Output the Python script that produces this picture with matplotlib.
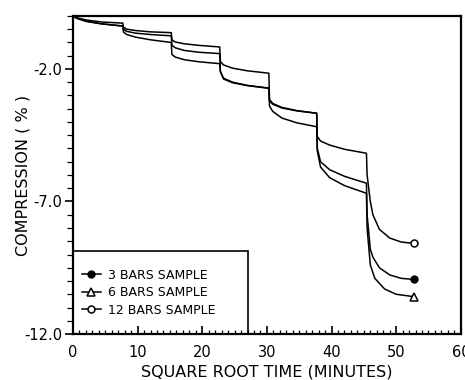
import numpy as np
import matplotlib
matplotlib.use("Agg")
import matplotlib.pyplot as plt
from matplotlib.legend_handler import HandlerLine2D
from matplotlib.patches import Rectangle
from matplotlib.ticker import MultipleLocator, FixedLocator

# ---- data (sqrt time in minutes, compression %) ----
x_12 = [0, 0.5, 2, 4.5, 7.7,
        7.8, 8.3, 9.7, 12, 15.2,
        15.3, 15.8, 17.2, 19.5, 22.7,
        22.8, 23.3, 24.7, 27, 30.3,
        30.4, 30.9, 32.3, 34.6, 37.7,
        37.8, 38.3, 39.7, 42, 45.4,
        45.5, 46.0, 46.4, 47.4, 49.0, 50.8, 52.7]
y_12 = [0, -0.06, -0.15, -0.23, -0.27,
        -0.42, -0.5, -0.55, -0.6, -0.63,
        -0.9, -0.98, -1.05, -1.11, -1.17,
        -1.72, -1.85, -1.97, -2.07, -2.16,
        -3.15, -3.3, -3.45, -3.57, -3.67,
        -4.55, -4.72, -4.87, -5.03, -5.18,
        -6.0, -7.0, -7.5, -8.05, -8.38, -8.53, -8.58]

x_3 = [0, 0.5, 2, 4.5, 7.7,
       7.8, 8.3, 9.7, 12, 15.2,
       15.3, 15.8, 17.2, 19.5, 22.7,
       22.8, 23.3, 24.7, 27, 30.3,
       30.4, 30.9, 32.3, 34.6, 37.7,
       37.8, 38.3, 39.7, 42, 45.4,
       45.5, 46.0, 46.4, 47.4, 49.0, 50.8, 52.7]
y_3 = [0, -0.08, -0.2, -0.3, -0.38,
       -0.5, -0.58, -0.65, -0.7, -0.75,
       -1.1, -1.2, -1.3, -1.37, -1.42,
       -2.1, -2.35, -2.5, -2.62, -2.72,
       -3.2, -3.33, -3.47, -3.58, -3.67,
       -5.0, -5.5, -5.8, -6.05, -6.31,
       -7.5, -8.8, -9.1, -9.5, -9.77, -9.9, -9.94]

x_6 = [0, 0.5, 2, 4.5, 7.7,
       7.8, 8.3, 9.7, 12, 15.2,
       15.3, 15.8, 17.2, 19.5, 22.7,
       22.8, 23.3, 24.7, 27, 30.3,
       30.4, 30.9, 32.3, 34.6, 37.7,
       37.8, 38.3, 39.7, 42, 45.4,
       45.5, 46.0, 46.7, 48.2, 50.0, 52.7]
y_6 = [0, -0.08, -0.2, -0.3, -0.38,
       -0.6, -0.7, -0.8, -0.9, -1.0,
       -1.45, -1.55, -1.65, -1.73, -1.8,
       -2.1, -2.38, -2.52, -2.63, -2.73,
       -3.4, -3.6, -3.85, -4.03, -4.18,
       -5.1, -5.7, -6.1, -6.4, -6.69,
       -8.0, -9.4, -9.9, -10.3, -10.5, -10.59]

labels = ["3 BARS SAMPLE", "6 BARS SAMPLE", "12 BARS SAMPLE"]
x_ticks = [0, 10, 20, 30, 40, 50, 60]
y_ticks = [-12.0, -7.0, -2.0]
y_tick_labels = ["-12.0", "-7.0", "-2.0"]


class EndMarkerHandler(HandlerLine2D):
    def get_xdata(self, legend, xdescent, ydescent, width, height, fontsize):
        xdata = [-xdescent, -xdescent + width]
        return xdata, [-xdescent + width]


fig = plt.figure(figsize=(4.65, 3.8), dpi=100)
ax = fig.add_axes([0.157, 0.121, 0.834, 0.837])

lw = 1.1
l3, = ax.plot(x_3, y_3, color="black", lw=lw, marker="o", markevery=[len(x_3) - 1],
              markersize=5, markerfacecolor="black", markeredgecolor="black")
l6, = ax.plot(x_6, y_6, color="black", lw=lw, marker="^", markevery=[len(x_6) - 1],
              markersize=5.5, markerfacecolor="white", markeredgecolor="black", markeredgewidth=1.1)
l12, = ax.plot(x_12, y_12, color="black", lw=lw, marker="o", markevery=[len(x_12) - 1],
               markersize=5, markerfacecolor="white", markeredgecolor="black", markeredgewidth=1.1)

ax.set_xlim(0, 60)
ax.set_ylim(-12, 0)

for s in ax.spines.values():
    s.set_linewidth(1.6)

ax.xaxis.set_major_locator(FixedLocator(x_ticks))
ax.xaxis.set_minor_locator(MultipleLocator(1))
ax.yaxis.set_major_locator(FixedLocator(y_ticks))
ax.yaxis.set_minor_locator(MultipleLocator(0.5))
ax.set_yticklabels(y_tick_labels)

ax.tick_params(axis="x", which="major", direction="in", length=6, width=1.2, labelsize=10.5, pad=8)
ax.tick_params(axis="x", which="minor", direction="in", length=3, width=0.9)
ax.tick_params(axis="y", which="major", direction="out", length=6, width=1.2, labelsize=10.5, pad=2)
ax.tick_params(axis="y", which="minor", direction="out", length=4, width=0.9)

ax.set_xlabel("SQUARE ROOT TIME (MINUTES)", fontsize=11.5, labelpad=3)
ax.set_ylabel("COMPRESSION ( % )", fontsize=11.5)
ax.yaxis.set_label_coords(-0.11, 0.5)

leg = ax.legend([l3, l6, l12], labels, loc="center left", bbox_to_anchor=(0.0, 0.13),
                frameon=False, fontsize=9, handlelength=1.5, handletextpad=0.6,
                labelspacing=0.35, borderaxespad=0.3,
                handler_map={l3: EndMarkerHandler(), l6: EndMarkerHandler(), l12: EndMarkerHandler()})
ax.add_patch(Rectangle((0, 0), 0.45, 0.26, transform=ax.transAxes, fill=False,
                       edgecolor="black", lw=1.2, zorder=5))

fig.savefig("out.png", dpi=100)
